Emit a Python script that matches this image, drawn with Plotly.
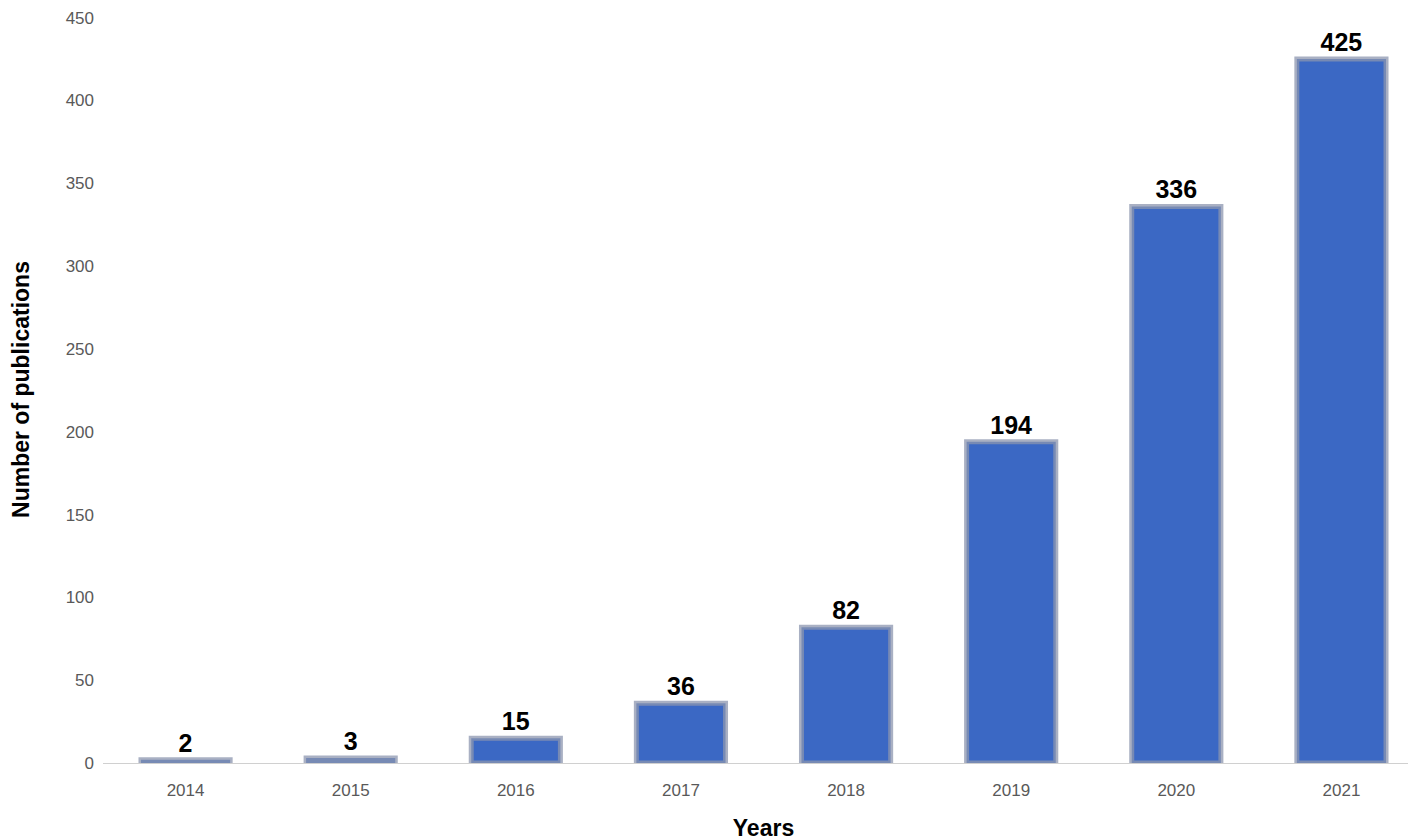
import plotly.graph_objects as go

years = ["2014", "2015", "2016", "2017", "2018", "2019", "2020", "2021"]
publications = [2, 3, 15, 36, 82, 194, 336, 425]

fig = go.Figure()
fig.add_trace(go.Bar(
    x=years,
    y=publications,
    text=[str(v) for v in publications],
    textposition="outside",
    textfont=dict(family="Liberation Sans, Arial", size=25, color="black", weight="bold"),
    cliponaxis=False,
    marker=dict(color="#3b68c4", line=dict(color="rgba(140,150,175,0.75)", width=5)),
    width=0.54,
))

fig.update_layout(
    width=1416, height=836,
    margin=dict(l=95, r=0, t=8, b=81),
    plot_bgcolor="white", paper_bgcolor="white",
    showlegend=False,
    font=dict(family="Liberation Sans, Arial"),
    xaxis=dict(
        title=dict(text="<b>Years</b>", font=dict(size=23, color="black"), standoff=20),
        tickfont=dict(size=17, color="#595959"),
        ticklabelstandoff=12,
        showline=True, linecolor="#d0d0d0", linewidth=1,
        ticks="", showgrid=False,
    ),
    yaxis=dict(
        title=dict(text="<b>Number of publications</b>", font=dict(size=23, color="black"), standoff=30),
        range=[0, 451], tickvals=list(range(0, 451, 50)),
        tickfont=dict(size=17, color="#595959"),
        ticklabelstandoff=8,
        showgrid=False, zeroline=False, showline=False, ticks="",
    ),
)

fig.write_html("out.html")
